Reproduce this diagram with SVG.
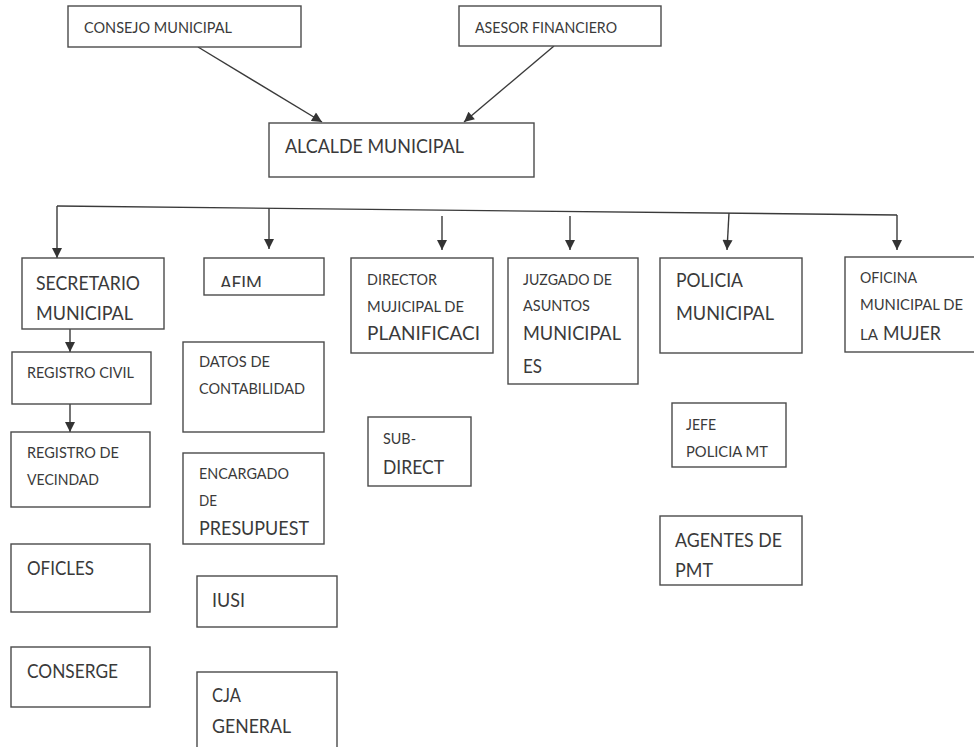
<svg xmlns="http://www.w3.org/2000/svg" width="974" height="747" viewBox="0 0 974 747">
<style>
.box{fill:#fff;stroke:#4a4a4a;stroke-width:1.4}
text{font-family:Lato,"Open Sans","Liberation Sans",sans-serif;fill:#3a3a3a}
.s{font-size:15.5px}
.l{font-size:19px}
.c{fill:none;stroke:#3a3a3a;stroke-width:1.4}
</style>
<defs>
<marker id="ah" viewBox="0 0 10 10" refX="10" refY="5" markerWidth="11" markerHeight="10" markerUnits="userSpaceOnUse" orient="auto">
<path d="M0,0 L10,5 L0,10 z" fill="#333"/>
</marker>
<clipPath id="afimclip"><rect x="204" y="258" width="120" height="29"/></clipPath>
</defs>
<rect width="974" height="747" fill="#fff"/>
<g id="connectors">
<line class="c" x1="198" y1="47" x2="322" y2="122" marker-end="url(#ah)"/>
<line class="c" x1="554" y1="46" x2="464" y2="122" marker-end="url(#ah)"/>
<line class="c" x1="57" y1="206" x2="897" y2="215"/>
<line class="c" x1="57" y1="206" x2="57" y2="258" marker-end="url(#ah)"/>
<line class="c" x1="897" y1="215" x2="897" y2="250" marker-end="url(#ah)"/>
<line class="c" x1="269" y1="208" x2="269" y2="249" marker-end="url(#ah)"/>
<line class="c" x1="442" y1="216" x2="442" y2="250" marker-end="url(#ah)"/>
<line class="c" x1="570" y1="216" x2="570" y2="250" marker-end="url(#ah)"/>
<line class="c" x1="729" y1="213" x2="727" y2="250" marker-end="url(#ah)"/>
<line class="c" x1="70" y1="329" x2="70" y2="352" marker-end="url(#ah)"/>
<line class="c" x1="70" y1="404" x2="70" y2="432" marker-end="url(#ah)"/>
</g>
<g id="consejo"><rect class="box" x="68" y="6" width="233" height="41"/><text class="s" x="84" y="33" textLength="148" lengthAdjust="spacingAndGlyphs">CONSEJO MUNICIPAL</text></g>
<g id="asesor"><rect class="box" x="459" y="6" width="202" height="40"/><text class="s" x="475" y="33" textLength="142" lengthAdjust="spacingAndGlyphs">ASESOR FINANCIERO</text></g>
<g id="alcalde"><rect class="box" x="269" y="123" width="265" height="54"/><text class="l" x="285" y="153" textLength="179" lengthAdjust="spacingAndGlyphs">ALCALDE MUNICIPAL</text></g>
<g id="secretario"><rect class="box" x="22" y="258" width="142" height="71"/><text class="l" x="36" y="290" textLength="104" lengthAdjust="spacingAndGlyphs">SECRETARIO</text><text class="l" x="36" y="320" textLength="97" lengthAdjust="spacingAndGlyphs">MUNICIPAL</text></g>
<g id="afim"><rect class="box" x="204" y="258" width="120" height="37"/><text class="l" x="220" y="290" textLength="42" lengthAdjust="spacingAndGlyphs" clip-path="url(#afimclip)">AFIM</text></g>
<g id="director"><rect class="box" x="351" y="258" width="142" height="95"/><text class="s" x="367" y="285" textLength="70" lengthAdjust="spacingAndGlyphs">DIRECTOR</text><text class="s" x="367" y="312" textLength="97" lengthAdjust="spacingAndGlyphs">MUJICIPAL DE</text><text class="l" x="367" y="340" textLength="113" lengthAdjust="spacingAndGlyphs">PLANIFICACI</text></g>
<g id="juzgado"><rect class="box" x="508" y="258" width="130" height="126"/><text class="s" x="523" y="285" textLength="89" lengthAdjust="spacingAndGlyphs">JUZGADO DE</text><text class="s" x="523" y="311" textLength="67" lengthAdjust="spacingAndGlyphs">ASUNTOS</text><text class="l" x="523" y="340" textLength="98" lengthAdjust="spacingAndGlyphs">MUNICIPAL</text><text class="l" x="523" y="373" textLength="19" lengthAdjust="spacingAndGlyphs">ES</text></g>
<g id="policia"><rect class="box" x="660" y="258" width="142" height="95"/><text class="l" x="676" y="287" textLength="67" lengthAdjust="spacingAndGlyphs">POLICIA</text><text class="l" x="676" y="320" textLength="98" lengthAdjust="spacingAndGlyphs">MUNICIPAL</text></g>
<g id="oficina"><rect class="box" x="845" y="257" width="135" height="95"/><text class="s" x="860" y="283" textLength="57" lengthAdjust="spacingAndGlyphs">OFICINA</text><text class="s" x="860" y="310" textLength="103" lengthAdjust="spacingAndGlyphs">MUNICIPAL DE</text><text class="s" x="860" y="340" textLength="18" lengthAdjust="spacingAndGlyphs">LA</text><text class="l" x="883" y="340" textLength="58" lengthAdjust="spacingAndGlyphs">MUJER</text></g>
<g id="registro-civil"><rect class="box" x="12" y="352" width="139" height="52"/><text class="s" x="27" y="378" textLength="107" lengthAdjust="spacingAndGlyphs">REGISTRO CIVIL</text></g>
<g id="datos"><rect class="box" x="183" y="342" width="141" height="90"/><text class="s" x="199" y="367" textLength="71" lengthAdjust="spacingAndGlyphs">DATOS DE</text><text class="s" x="199" y="394" textLength="106" lengthAdjust="spacingAndGlyphs">CONTABILIDAD</text></g>
<g id="registro-vecindad"><rect class="box" x="11" y="432" width="139" height="75"/><text class="s" x="27" y="458" textLength="92" lengthAdjust="spacingAndGlyphs">REGISTRO DE</text><text class="s" x="27" y="485" textLength="72" lengthAdjust="spacingAndGlyphs">VECINDAD</text></g>
<g id="encargado"><rect class="box" x="183" y="453" width="141" height="91"/><text class="s" x="199" y="479" textLength="90" lengthAdjust="spacingAndGlyphs">ENCARGADO</text><text class="s" x="199" y="506" textLength="18" lengthAdjust="spacingAndGlyphs">DE</text><text class="l" x="199" y="535" textLength="110" lengthAdjust="spacingAndGlyphs">PRESUPUEST</text></g>
<g id="subdirect"><rect class="box" x="368" y="417" width="103" height="69"/><text class="s" x="383" y="444" textLength="33" lengthAdjust="spacingAndGlyphs">SUB-</text><text class="l" x="383" y="474" textLength="61" lengthAdjust="spacingAndGlyphs">DIRECT</text></g>
<g id="jefe"><rect class="box" x="672" y="403" width="114" height="64"/><text class="s" x="686" y="430" textLength="30" lengthAdjust="spacingAndGlyphs">JEFE</text><text class="s" x="686" y="457" textLength="82" lengthAdjust="spacingAndGlyphs">POLICIA MT</text></g>
<g id="agentes"><rect class="box" x="660" y="516" width="142" height="69"/><text class="l" x="675" y="547" textLength="107" lengthAdjust="spacingAndGlyphs">AGENTES DE</text><text class="l" x="675" y="577" textLength="38" lengthAdjust="spacingAndGlyphs">PMT</text></g>
<g id="oficles"><rect class="box" x="11" y="544" width="139" height="68"/><text class="l" x="27" y="575" textLength="67" lengthAdjust="spacingAndGlyphs">OFICLES</text></g>
<g id="iusi"><rect class="box" x="197" y="576" width="140" height="51"/><text class="l" x="212" y="607" textLength="33" lengthAdjust="spacingAndGlyphs">IUSI</text></g>
<g id="conserge"><rect class="box" x="11" y="647" width="139" height="60"/><text class="l" x="27" y="678" textLength="91" lengthAdjust="spacingAndGlyphs">CONSERGE</text></g>
<g id="cja"><rect class="box" x="197" y="672" width="140" height="90"/><text class="l" x="212" y="702" textLength="29" lengthAdjust="spacingAndGlyphs">CJA</text><text class="l" x="212" y="733" textLength="79" lengthAdjust="spacingAndGlyphs">GENERAL</text></g>
</svg>
